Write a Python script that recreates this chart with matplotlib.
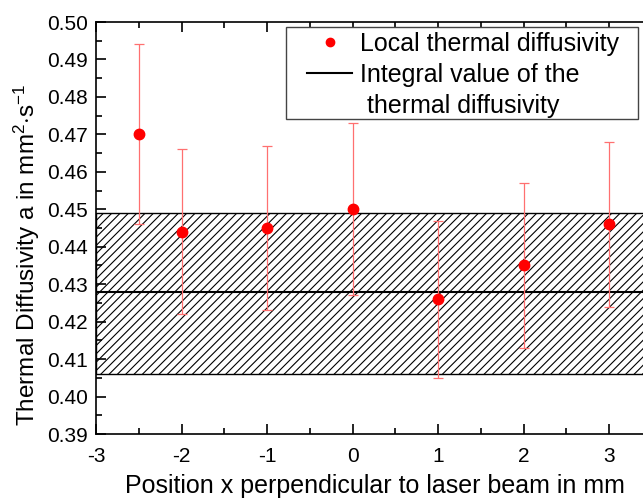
import matplotlib.pyplot as plt
from matplotlib.lines import Line2D
from matplotlib.patches import Rectangle
from matplotlib.ticker import MultipleLocator, FormatStrFormatter

plt.rcParams['font.family'] = ['Liberation Sans', 'DejaVu Sans']
plt.rcParams['mathtext.fontset'] = 'custom'
plt.rcParams['mathtext.rm'] = 'Liberation Sans'
plt.rcParams['mathtext.it'] = 'Liberation Sans:italic'
plt.rcParams['hatch.linewidth'] = 0.8

# local measurements
pos_x = [-2.5, -2, -1, 0, 1, 2, 3]
diffusivity = [0.470, 0.444, 0.445, 0.450, 0.426, 0.435, 0.446]
err = [0.024, 0.022, 0.022, 0.023, 0.021, 0.022, 0.022]

# integral value and its band
integral = 0.428
band_low = 0.406
band_high = 0.449

W, H = 643, 500
fig = plt.figure(figsize=(6.43, 5.0), dpi=100)
ax_w = 6.5 * 85.5
ax = fig.add_axes([96 / W, 1 - 434 / H, ax_w / W, 412 / H])

ax.axhspan(band_low, band_high, facecolor='none', edgecolor='black',
           hatch='////', linewidth=1.0, zorder=1)
line_int = ax.axhline(integral, color='black', linewidth=1.5, zorder=2)

ax.errorbar(pos_x, diffusivity, yerr=err, fmt='none', ecolor='#ff7070',
            elinewidth=0.9, capsize=3.5, capthick=0.9, zorder=3)
pts, = ax.plot(pos_x, diffusivity, 'o', color='red', markersize=7.5, zorder=4)

ax.set_xlim(-3, 3.5)
ax.set_ylim(0.39, 0.50)
ax.xaxis.set_major_locator(MultipleLocator(1))
ax.xaxis.set_minor_locator(MultipleLocator(0.5))
ax.yaxis.set_major_locator(MultipleLocator(0.01))
ax.yaxis.set_minor_locator(MultipleLocator(0.005))
ax.yaxis.set_major_formatter(FormatStrFormatter('%.2f'))
ax.xaxis.set_major_formatter(FormatStrFormatter('%d'))
ax.tick_params(which='both', direction='in', top=True, right=False,
               labelsize=15, width=1.2)
ax.tick_params(which='major', length=7, pad=6)
ax.tick_params(axis='x', which='major', pad=9)
ax.tick_params(which='minor', length=4)
for s in ax.spines.values():
    s.set_linewidth(1.2)


def ax_frac(px, py):
    return (px - 96) / ax_w, (434 - py) / 412


ax.set_xlabel('Position x perpendicular to laser beam in mm', fontsize=18)
ax.xaxis.set_label_coords(*ax_frac(375, 474))
ax.set_ylabel(r'Thermal Diffusivity a in mm$^{2}$$\cdot$s$^{-1}$', fontsize=17.5)
ax.yaxis.set_label_coords(*ax_frac(42, 255))

# legend box drawn by hand (wide right margin like the original)
x0, y0 = ax_frac(286, 119)
x1, y1 = ax_frac(637.5, 27)
ax.add_patch(Rectangle((x0, y0), x1 - x0, y1 - y0, transform=ax.transAxes,
                       facecolor='white', edgecolor='#444444', linewidth=1.0,
                       zorder=5, clip_on=False))

blank = Line2D([], [], linestyle='none')
leg = ax.legend([pts, line_int, blank],
                ['Local thermal diffusivity', 'Integral value of the', ' thermal diffusivity'],
                loc='upper left', bbox_to_anchor=ax_frac(307, 32),
                fontsize=18, frameon=False, handlelength=1.8, handletextpad=0.3,
                borderpad=0, labelspacing=0.28, borderaxespad=0, markerscale=0.8)
leg.set_zorder(6)

fig.savefig('out.png', dpi=100)
